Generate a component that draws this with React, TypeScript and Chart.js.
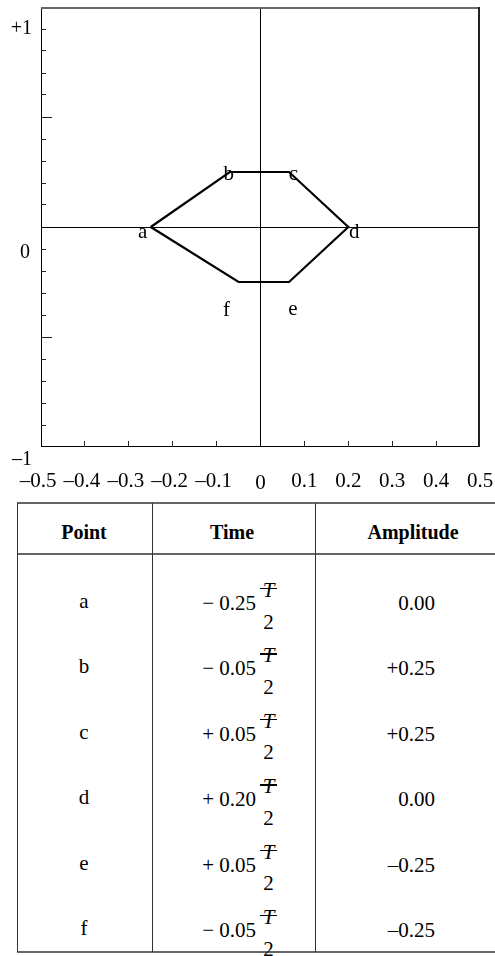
import React, { useEffect, useRef } from "react";
import { Chart, registerables } from "chart.js";
Chart.register(...registerables);

// ---- data ----
const pointNames = ["a", "b", "c", "d", "e", "f"];
const pointTimes = [-0.25, -0.07, 0.065, 0.2, 0.065, -0.05];
const pointAmps = [0, 0.25, 0.25, 0, -0.25, -0.25];

const xTickValues = [-0.5, -0.4, -0.3, -0.2, -0.1, 0, 0.1, 0.2, 0.3, 0.4, 0.5];
const xTickLabels = ["–0.5", "–0.4", "–0.3", "–0.2", "–0.1", "0", "0.1", "0.2", "0.3", "0.4", "0.5"];
const xInnerTicks = [-0.4, -0.3, -0.2, -0.1, 0.1, 0.2, 0.3, 0.4];

const yLabelValues = [1, 0, -1];
const yLabels = ["+1", "0", "–1"];
const yInnerTicks = [0.9, 0.8, 0.7, 0.6, 0.5, 0.4, 0.3, 0.2, 0.1, -0.1, -0.2, -0.3, -0.4, -0.5, -0.6, -0.7, -0.8, -0.9];
const yMajorTicks = [0.5, -0.5];

const tableHeaders = ["Point", "Time", "Amplitude"];
const tableTimes = ["− 0.25", "− 0.05", "+ 0.05", "+ 0.20", "+ 0.05", "− 0.05"];
const tableAmps = ["0.00", "+0.25", "+0.25", "0.00", "–0.25", "–0.25"];

// ---- styles ----
const SERIF = "'Liberation Serif', 'Times New Roman', serif";
const labelOffsets: [number, number][] = [
  [-8, 10.5],
  [-1, 7.5],
  [4.5, 7.5],
  [6, 10.5],
  [4, 32.5],
  [-12, 34],
];
const yLabelOffsets: [number, number][] = [
  [32, 27],
  [30, 31],
  [32, 18],
];

const framePlugin = {
  id: "frame",
  beforeDatasetsDraw(chart: any) {
    const { ctx, chartArea: a, scales } = chart;
    const xs = scales.x;
    const ys = scales.y;
    ctx.save();
    // axes through origin
    const x0 = Math.floor(xs.getPixelForValue(0)) + 0.5;
    const y0 = Math.floor(ys.getPixelForValue(0)) + 0.5;
    ctx.strokeStyle = "#000";
    ctx.lineWidth = 1;
    ctx.beginPath();
    ctx.moveTo(a.left, y0);
    ctx.lineTo(a.right, y0);
    ctx.moveTo(x0, a.top);
    ctx.lineTo(x0, a.bottom);
    ctx.stroke();
    // frame
    ctx.lineWidth = 1;
    ctx.strokeStyle = "#000";
    ctx.beginPath();
    ctx.moveTo(a.left + 0.5, a.top);
    ctx.lineTo(a.left + 0.5, a.bottom);
    ctx.moveTo(a.left, a.bottom - 0.5);
    ctx.lineTo(a.right, a.bottom - 0.5);
    ctx.stroke();
    ctx.lineWidth = 2;
    ctx.strokeStyle = "#666";
    ctx.beginPath();
    ctx.moveTo(a.left, a.top + 1);
    ctx.lineTo(a.right, a.top + 1);
    ctx.stroke();
    ctx.strokeStyle = "#222";
    ctx.beginPath();
    ctx.moveTo(a.right - 1, a.top);
    ctx.lineTo(a.right - 1, a.bottom);
    ctx.stroke();
    // inner ticks
    ctx.lineWidth = 1;
    ctx.strokeStyle = "#222";
    ctx.beginPath();
    yInnerTicks.forEach((v) => {
      const py = Math.floor(ys.getPixelForValue(v)) + 0.5;
      const len = yMajorTicks.includes(v) ? 11 : 5;
      ctx.moveTo(a.left, py);
      ctx.lineTo(a.left + len, py);
    });
    xInnerTicks.forEach((v) => {
      const px = Math.floor(xs.getPixelForValue(v)) + 0.5;
      ctx.moveTo(px, a.bottom);
      ctx.lineTo(px, a.bottom - 6);
    });
    ctx.stroke();
    ctx.restore();
  },
  afterDatasetsDraw(chart: any) {
    const { ctx, chartArea: a, scales } = chart;
    const xs = scales.x;
    const ys = scales.y;
    ctx.save();
    ctx.fillStyle = "#000";
    // point labels
    ctx.font = `21px ${SERIF}`;
    ctx.textAlign = "center";
    ctx.textBaseline = "alphabetic";
    pointNames.forEach((n, i) => {
      const px = xs.getPixelForValue(pointTimes[i]);
      const py = ys.getPixelForValue(pointAmps[i]);
      ctx.fillText(n, px + labelOffsets[i][0], py + labelOffsets[i][1]);
    });
    // x tick labels
    xTickValues.forEach((v, i) => {
      const px = xs.getPixelForValue(v);
      const dx = v < 0 ? -3 : 0;
      const base = v === 0 ? a.bottom + 42 : a.bottom + 39.5;
      ctx.fillText(xTickLabels[i], px + dx, base);
    });
    // y labels
    ctx.font = `20px ${SERIF}`;
    ctx.textAlign = "right";
    yLabelValues.forEach((v, i) => {
      const py = ys.getPixelForValue(v);
      ctx.fillText(yLabels[i], yLabelOffsets[i][0], py + yLabelOffsets[i][1]);
    });
    ctx.restore();
  },
};

const abs = (s: React.CSSProperties): React.CSSProperties => ({ position: "absolute", ...s });

export default function App() {
  const ref = useRef<HTMLCanvasElement>(null);
  useEffect(() => {
    const canvas = ref.current!;
    const pts = pointTimes.map((t, i) => ({ x: t, y: pointAmps[i] }));
    const chart = new Chart(canvas, {
      type: "scatter",
      data: {
        datasets: [
          {
            data: [...pts, pts[0]],
            showLine: true,
            borderColor: "#000",
            backgroundColor: "#000",
            borderWidth: 2.2,
            borderJoinStyle: "miter",
            pointRadius: 0,
            pointHoverRadius: 0,
            tension: 0,
            fill: false,
          } as any,
        ],
      },
      options: {
        responsive: false,
        animation: false,
        events: [],
        layout: { padding: { left: 41, top: 7, right: 15, bottom: 53 } },
        scales: {
          x: { type: "linear", min: -0.5, max: 0.5, display: false },
          y: { type: "linear", min: -1, max: 1, display: false },
        },
        plugins: { legend: { display: false }, tooltip: { enabled: false }, title: { display: false } },
      },
      plugins: [framePlugin],
    });
    return () => chart.destroy();
  }, []);

  const tableTop = 503;
  const headerBottom = 554;
  const tableBottom = 952;
  const rowCenters = tableTimes.map((_, i) => 603 + i * 65.4);
  const hLine = (y: number) => (
    <div style={abs({ left: 17, top: y - 1, width: 478, height: 2, background: "#666" })} />
  );
  const vLine = (x: number) => (
    <div style={abs({ left: x, top: tableTop, width: 1, height: tableBottom - tableTop, background: "#333" })} />
  );
  const LH = 24;

  return (
    <div
      style={abs({
        left: 0,
        top: 0,
        width: 495,
        height: 956,
        overflow: "hidden",
        background: "#fff",
        fontFamily: SERIF,
        color: "#000",
      })}
    >
      <canvas ref={ref} width={495} height={500} style={abs({ left: 0, top: 0, width: 495, height: 500 })} />
      {hLine(tableTop)}
      {hLine(headerBottom)}
      {hLine(tableBottom)}
      {vLine(17)}
      {vLine(152)}
      {vLine(315)}
      {/* header */}
      {tableHeaders.map((h, i) => {
        const centers = [84, 232, 413];
        return (
          <div
            key={h}
            style={abs({
              left: centers[i] - 70,
              width: 140,
              top: 532 - LH / 2,
              height: LH,
              lineHeight: `${LH}px`,
              textAlign: "center",
              fontWeight: "bold",
              fontSize: 20,
            })}
          >
            {h}
          </div>
        );
      })}
      {/* rows */}
      {pointNames.map((n, i) => {
        const yc = rowCenters[i];
        return (
          <React.Fragment key={n}>
            <div
              style={abs({
                left: 84 - 40,
                width: 80,
                top: yc - LH / 2 - 2,
                height: LH,
                lineHeight: `${LH}px`,
                textAlign: "center",
                fontSize: 21,
              })}
            >
              {n}
            </div>
            <div
              style={abs({
                left: 155,
                width: 101,
                top: yc - LH / 2,
                height: LH,
                lineHeight: `${LH}px`,
                textAlign: "right",
                fontSize: 21,
                whiteSpace: "pre",
              })}
            >
              {tableTimes[i]}
            </div>
            <div
              style={abs({
                left: 259,
                width: 19,
                top: yc - 25,
                height: LH,
                lineHeight: `${LH}px`,
                textAlign: "center",
                fontSize: 21,
                fontStyle: "italic",
              })}
            >
              T
            </div>
            <div style={abs({ left: 260, width: 17, top: yc - 15, height: 1.4, background: "#000" })} />
            <div
              style={abs({
                left: 259,
                width: 19,
                top: yc + 18.5 - LH / 2,
                height: LH,
                lineHeight: `${LH}px`,
                textAlign: "center",
                fontSize: 21,
              })}
            >
              2
            </div>
            <div
              style={abs({
                left: 330,
                width: 105,
                top: yc - LH / 2,
                height: LH,
                lineHeight: `${LH}px`,
                textAlign: "right",
                fontSize: 21,
              })}
            >
              {tableAmps[i]}
            </div>
          </React.Fragment>
        );
      })}
    </div>
  );
}
